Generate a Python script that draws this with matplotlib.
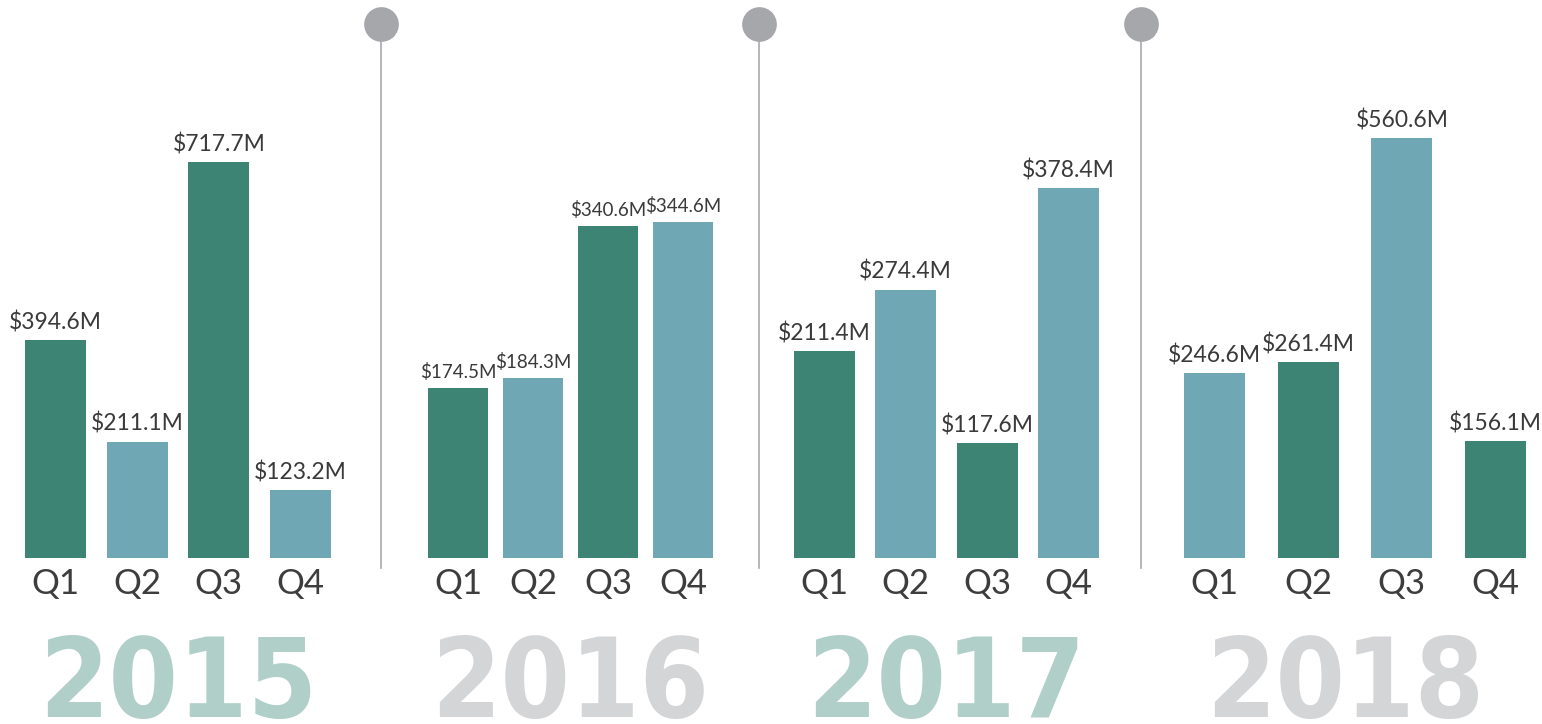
import matplotlib.pyplot as plt
from matplotlib.lines import Line2D

years = ["2015", "2016", "2017", "2018"]
quarters = ["Q1", "Q2", "Q3", "Q4"]
values = {
    "2015": [394.6, 211.1, 717.7, 123.2],
    "2016": [174.5, 184.3, 340.6, 344.6],
    "2017": [211.4, 274.4, 117.6, 378.4],
    "2018": [246.6, 261.4, 560.6, 156.1],
}

dark = "#3d8474"
light = "#6fa7b4"
bar_colors = {
    "2015": [dark, light, dark, light],
    "2016": [dark, light, dark, light],
    "2017": [dark, light, dark, light],
    "2018": [light, dark, light, dark],
}
year_colors = ["#b1cfc9", "#d4d5d7", "#b1cfc9", "#d4d5d7"]

W, H = 1542, 724
fig = plt.figure(figsize=(W / 100, H / 100), dpi=100)

# panel layout in pixels: (left, width, bar width fraction, px height of tallest bar, label size)
panels = [
    (14.6, 326.8, 0.747, 396, 16.5),
    (420.5, 300.0, 0.80, 336, 13.5),
    (783.8, 325.2, 0.75, 370, 16.5),
    (1167.6, 374.8, 0.65, 420, 16.5),
]
base = 166  # baseline from the bottom, px
ax_h = H - base
year_x = [178, 570, 946, 1345]

for i, yr in enumerate(years):
    left, width, bw, tall, fs = panels[i]
    ax = fig.add_axes([left / W, base / H, width / W, ax_h / H])
    vals = values[yr]
    ax.bar(range(4), vals, width=bw, color=bar_colors[yr])
    ax.set_xlim(-0.5, 3.5)
    ax.set_ylim(0, max(vals) * ax_h / tall)
    ax.axis("off")
    for j, v in enumerate(vals):
        ax.annotate(f"${v:.1f}M", (j, v), xytext=(0, 5), textcoords="offset points",
                    ha="center", va="bottom", fontsize=fs, color="#3a3a3a",
                    family="Lato")
        ax.annotate(quarters[j], (j, 0), xytext=(0, -7), textcoords="offset points",
                    ha="center", va="top", fontsize=25, color="#3d3d3d",
                    family="Lato")
    fig.text(year_x[i] / W, (H - 717) / H, yr, ha="center", va="baseline",
             fontsize=80, fontweight="bold", fontstretch="condensed",
             family="DejaVu Sans", color=year_colors[i])

# dividers with circles on top
for x in [381, 759, 1141]:
    fig.add_artist(Line2D([x / W, x / W], [(H - 568) / H, (H - 24) / H],
                          color="#a8a9ad", lw=1.2))
    fig.add_artist(Line2D([x / W], [(H - 24) / H], marker="o", markersize=25,
                          color="#a6a7ab", markeredgewidth=0))

fig.savefig("out.png", dpi=100)
